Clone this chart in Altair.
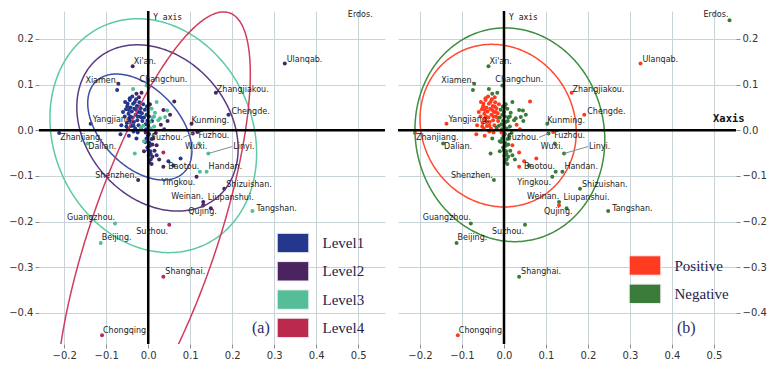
import altair as alt
import numpy as np
import pandas as pd

# ---------------- data ----------------
city_names = ["Xi'an.", "Xiamen.", "Changchun.", "Ulanqab.", "Zhangjiakou.", "Chengde.",
              "Kunming.", "Yangjiang.", "Zhanjiang.", "Dalian.", "Fuzhou.", "Fuzhou.",
              "Wuxi.", "Linyi.", "Baotou.", "Handan.", "Shenzhen.", "Yingkou.",
              "Shizuishan.", "Weinan.", "Liupanshui.", "Qujing.", "Tangshan.",
              "Guangzhou.", "Suzhou.", "Beijing.", "Shanghai.", "Chongqing.", "Erdos."]
city_x = [-0.037, -0.071, -0.004, 0.325, 0.161, 0.191, 0.103, -0.137, -0.212, -0.145,
          0.106, 0.117, 0.121, 0.143, 0.036, 0.139, -0.024, 0.115, 0.181, 0.131, 0.149,
          0.131, 0.248, -0.079, 0.050, -0.113, 0.036, -0.110, 0.537]
city_y = [0.140, 0.102, 0.098, 0.146, 0.082, 0.034, 0.014, 0.014, -0.006, -0.029,
          -0.007, -0.004, -0.029, -0.051, -0.080, -0.091, -0.109, -0.102, -0.128, -0.157,
          -0.171, -0.164, -0.177, -0.204, -0.207, -0.247, -0.321, -0.449, 0.241]
city_level = [2, 1, 3, 2, 2, 1, 2, 1, 1, 3, 2, 2, 3, 3, 2, 3, 2, 2, 2, 2, 2, 2, 3, 3, 4, 3, 4, 4, 0]
city_sign = ["N", "N", "N", "P", "P", "P", "N", "P", "P", "N", "N", "P", "N", "N", "P", "N",
             "N", "N", "N", "N", "N", "P", "N", "N", "N", "N", "N", "P", "N"]

# unlabelled cities, grouped: Level1/Positive, Level1/Negative, Level3/Negative, Level2, Level4
l1p_x = [-0.056, -0.053, -0.051, -0.049, -0.047, -0.045, -0.044, -0.042, -0.041, -0.039,
         -0.037, -0.036, -0.034, -0.033, -0.031, -0.030, -0.029, -0.027, -0.026, -0.024,
         -0.023, -0.021, -0.020, -0.018, -0.017, -0.015, -0.014, -0.048, -0.060, -0.064,
         -0.012, -0.038, -0.066, -0.046, 0.048, 0.077, -0.055, -0.025,
         -0.050, -0.046, -0.043, -0.040, -0.035, -0.032, -0.028, -0.025, -0.022, -0.019,
         -0.016, -0.035, -0.044, -0.052]
l1p_y = [0.030, 0.046, 0.016, 0.058, 0.036, 0.024, 0.066, 0.050, 0.009, 0.041,
         0.028, 0.058, 0.018, 0.047, 0.004, 0.034, 0.068, 0.053, 0.022, 0.040,
         0.011, 0.061, 0.030, 0.048, 0.002, 0.037, 0.020, 0.003, 0.040, 0.011,
         0.057, 0.074, -0.009, -0.012, -0.068, -0.062, 0.062, -0.005,
         0.052, 0.044, 0.030, 0.018, 0.010, 0.062, 0.044, 0.030, 0.052, 0.040,
         0.028, -0.003, 0.070, 0.008]
l1n_x = [-0.010, -0.008, -0.006, -0.004, -0.003, -0.002, 0.002, -0.004, 0.003, -0.002,
         0.005, 0.001, 0.008, -0.007, 0.006, -0.074, 0.020, -0.028, 0.060,
         0.000, 0.002, -0.001, 0.004, 0.000, 0.006, 0.002, 0.009, -0.005]
l1n_y = [0.028, 0.045, 0.013, 0.034, 0.052, 0.021, -0.008, -0.018, -0.028, -0.038,
         -0.046, -0.056, -0.019, -0.026, -0.064, 0.088, -0.055, -0.018, -0.077,
         0.010, 0.030, -0.012, -0.034, -0.044, -0.052, -0.070, 0.020, 0.002]
l3n_x = [-0.036, -0.032, -0.012, 0.000, 0.004, 0.008, 0.010, 0.014, 0.016, 0.020,
         0.024, 0.028, 0.040, 0.045, 0.006, -0.018, -0.010, 0.012, 0.123, 0.002, 0.014]
l3n_y = [0.090, -0.051, 0.010, 0.040, 0.018, 0.047, 0.028, 0.008, 0.038, 0.062,
         0.022, 0.026, 0.029, 0.043, 0.004, 0.006, -0.024, -0.012, -0.091, 0.050, 0.030]
l2_x = [-0.016, 0.062, 0.036, 0.030, 0.046, 0.010, 0.015, 0.020, -0.006, 0.004,
        -0.022, 0.026, 0.018, 0.038, -0.010, -0.028, 0.052, 0.008, 0.012, 0.010]
l2_y = [0.082, 0.063, 0.044, 0.012, 0.020, -0.031, -0.045, -0.033, -0.005, 0.057,
        0.072, -0.064, -0.006, 0.002, -0.046, 0.080, 0.034, -0.074, -0.018, -0.058]
l2_sign = ["N", "P", "N", "P", "N", "N", "N", "P", "P", "N",
           "P", "N", "N", "P", "N", "N", "N", "N", "N", "N"]
l4_x = [0.036]
l4_y = [-0.049]
l4_sign = ["P"]

level_names = ["Level1", "Level2", "Level3", "Level4"]
sign_names = ["Positive", "Negative"]

# ellipse parameters: centre, half-width, half-height, correlation
ell_level_cx = [-0.020, 0.022, 0.012, 0.012]
ell_level_cy = [0.007, 0.005, -0.012, -0.233]
ell_level_sx = [0.124, 0.192, 0.246, 0.231]
ell_level_sy = [0.116, 0.182, 0.256, 0.492]
ell_level_rho = [-0.45, -0.25, -0.15, 0.724]
ell_sign_cx = [-0.014, 0.014]
ell_sign_cy = [0.010, -0.010]
ell_sign_sx = [0.186, 0.226]
ell_sign_sy = [0.178, 0.234]
ell_sign_rho = [-0.08, -0.05]

x_ticks = [-0.2, -0.1, 0.0, 0.1, 0.2, 0.3, 0.4, 0.5]
y_ticks = [-0.4, -0.3, -0.2, -0.1, 0.0, 0.1, 0.2]

# ---------------- styling ----------------
level_colors = ["#24378c", "#4b245f", "#55be98", "#bb2a4e"]
level_line_colors = ["#3d50a6", "#5b3b80", "#5ccba0", "#d23c5e"]
sign_colors = ["#ff3b1f", "#3a7b3a"]
sign_line_colors = ["#ff4b33", "#3f8f3f"]

# label offsets in pixels (left edge, baseline) relative to the point
label_dx = [1, -33, -7, 2, 1, 3, 0, 2, 1, 1, -41, 1, -14, 25, 5, 2, -43, -35, 2, -32, -3, -15,
            4, -48, -33, 1, 2, 1, -26]
label_dy = [-2, -1, -3, -2, -1, -1, -1, -2, 7, 6, 7, 6, 6, -5, 2, -3, -2, 8, -2, -3, -8, 9,
            0, -3, 9, -3, -3, -2, -3]

Y_DOM = [-0.468, 0.261]
HEIGHT = 333

all_x = city_x + l1p_x + l1n_x + l3n_x + l2_x + l4_x
all_y = city_y + l1p_y + l1n_y + l3n_y + l2_y + l4_y
all_level = (city_level + [1] * len(l1p_x) + [1] * len(l1n_x) + [3] * len(l3n_x)
             + [2] * len(l2_x) + [4] * len(l4_x))
all_sign = (city_sign + ["P"] * len(l1p_x) + ["N"] * len(l1n_x) + ["N"] * len(l3n_x)
            + l2_sign + l4_sign)

pts = pd.DataFrame({
    "x": all_x,
    "y": all_y,
    "level": [level_names[l - 1] if l > 0 else "" for l in all_level],
    "sign": ["Positive" if s == "P" else "Negative" for s in all_sign],
})

tt = np.linspace(0, 2 * np.pi, 361)


def ellipse_df(cx, cy, sx, sy, rho):
    return pd.DataFrame({
        "x": cx + sx * np.cos(tt),
        "y": cy + sy * (rho * np.cos(tt) + np.sqrt(1 - rho ** 2) * np.sin(tt)),
        "i": np.arange(len(tt)),
    })


def make_panel(xdom, width, field, cats, colors, ells, ell_colors, y_orient,
               leg_xy, tag, tag_xy, with_xaxis_text, drop_empty):
    kx = width / (xdom[1] - xdom[0])
    ky = HEIGHT / (Y_DOM[1] - Y_DOM[0])
    xs = alt.Scale(domain=xdom, nice=False, zero=False)
    ys = alt.Scale(domain=Y_DOM, nice=False, zero=False)
    axis_common = dict(grid=True, gridColor="#c9d2d7", gridWidth=1, domain=False,
                       tickColor="#8c8c8c", tickSize=4, labelPadding=2,
                       labelFont="DejaVu Sans", labelFontSize=10, labelColor="#333333",
                       format=".1f", title=None)
    X = alt.X("x:Q", scale=xs, axis=alt.Axis(values=x_ticks, **axis_common))
    Y = alt.Y("y:Q", scale=ys, axis=alt.Axis(values=y_ticks, orient=y_orient,
                                              minExtent=31, maxExtent=31, **axis_common))

    d = pts[pts[field] != ""] if drop_empty else pts
    points = alt.Chart(d).mark_point(filled=True, size=16, opacity=1).encode(
        x=X, y=Y,
        color=alt.Color(f"{field}:N", scale=alt.Scale(domain=cats, range=colors),
                        legend=alt.Legend(orient="none", legendX=leg_xy[0], legendY=leg_xy[1],
                                          title=None,
                                          symbolType="M-1.58,-0.97H1.58V0.97H-1.58Z",
                                          symbolSize=400, symbolOpacity=1,
                                          symbolStrokeColor="#eeeef5", symbolStrokeWidth=1,
                                          labelFont="Liberation Serif", labelFontSize=15,
                                          labelColor="#23234a", labelOffset=19,
                                          rowPadding=3.3, padding=0)),
    )

    layers = [points]
    for p, c in zip(ells, ell_colors):
        layers.append(alt.Chart(ellipse_df(*p)).mark_line(clip=True, strokeWidth=1.5, color=c)
                      .encode(x=alt.X("x:Q", scale=xs), y=alt.Y("y:Q", scale=ys), order="i:Q"))

    zero = pd.DataFrame({"v": [0.0]})
    layers.append(alt.Chart(zero).mark_rule(color="black", strokeWidth=2.5)
                  .encode(x=alt.X("v:Q", scale=xs)))
    layers.append(alt.Chart(zero).mark_rule(color="black", strokeWidth=2.5)
                  .encode(y=alt.Y("v:Q", scale=ys)))

    lab = pd.DataFrame({
        "name": city_names,
        "lx": [x + dx / kx for x, dx in zip(city_x, label_dx)],
        "ly": [y - dy / ky for y, dy in zip(city_y, label_dy)],
    })
    # leader lines
    lead = pd.DataFrame({
        "x": [city_x[10], city_x[13]],
        "y": [city_y[10], city_y[13]],
        "x2": [lab.lx[10] + 31.5 / kx, lab.lx[13] - 1 / kx],
        "y2": [lab.ly[10] + 3 / ky, lab.ly[13] + 2 / ky],
    })
    layers.append(alt.Chart(lead).mark_rule(color="#7f8c92", strokeWidth=1)
                  .encode(x=alt.X("x:Q", scale=xs), y=alt.Y("y:Q", scale=ys), x2="x2:Q", y2="y2:Q"))
    layers.append(alt.Chart(lab).mark_text(align="left", baseline="alphabetic",
                                           font="DejaVu Sans", fontSize=8, color="#222222")
                  .encode(x=alt.X("lx:Q", scale=xs), y=alt.Y("ly:Q", scale=ys), text="name:N"))

    layers.append(alt.Chart(zero.assign(t="Y axis")).mark_text(
        align="left", baseline="alphabetic", font="DejaVu Sans Mono", fontSize=8,
        color="#111111", dx=5)
        .encode(x=alt.X("v:Q", scale=xs), y=alt.value(9), text="t:N"))
    if with_xaxis_text:
        layers.append(alt.Chart(zero.assign(t="Xaxis")).mark_text(
            align="left", baseline="alphabetic", font="DejaVu Sans Mono", fontSize=10.5,
            fontWeight="bold", color="#111111")
            .encode(x=alt.value(315), y=alt.value(111), text="t:N"))
    layers.append(alt.Chart(zero.assign(t=tag)).mark_text(
        align="left", baseline="alphabetic", font="Liberation Serif", fontSize=16,
        color="#2b2b66")
        .encode(x=alt.value(tag_xy[0]), y=alt.value(tag_xy[1]), text="t:N"))

    return alt.layer(*layers).properties(width=width, height=HEIGHT)


left = make_panel([-0.260, 0.5636], 346, "level", level_names, level_colors,
                  list(zip(ell_level_cx, ell_level_cy, ell_level_sx, ell_level_sy, ell_level_rho)),
                  level_line_colors, "left", (243.5, 221.5), "(a)", (213, 322), False, True)
right = make_panel([-0.2524, 0.5524], 338, "sign", sign_names, sign_colors,
                   list(zip(ell_sign_cx, ell_sign_cy, ell_sign_sx, ell_sign_sy, ell_sign_rho)),
                   sign_line_colors, "right", (236.5, 244), "(b)", (279, 322), True, False)

chart = (alt.hconcat(left, right, spacing=9)
         .resolve_scale(color="independent", x="independent", y="independent")
         .resolve_legend(color="independent")
         .properties(padding={"left": 0, "top": 1, "right": 0, "bottom": 0},
                     background="white")
         .configure_view(stroke=None))

chart.save("out.html", embed_options={"renderer": "svg", "actions": False})
